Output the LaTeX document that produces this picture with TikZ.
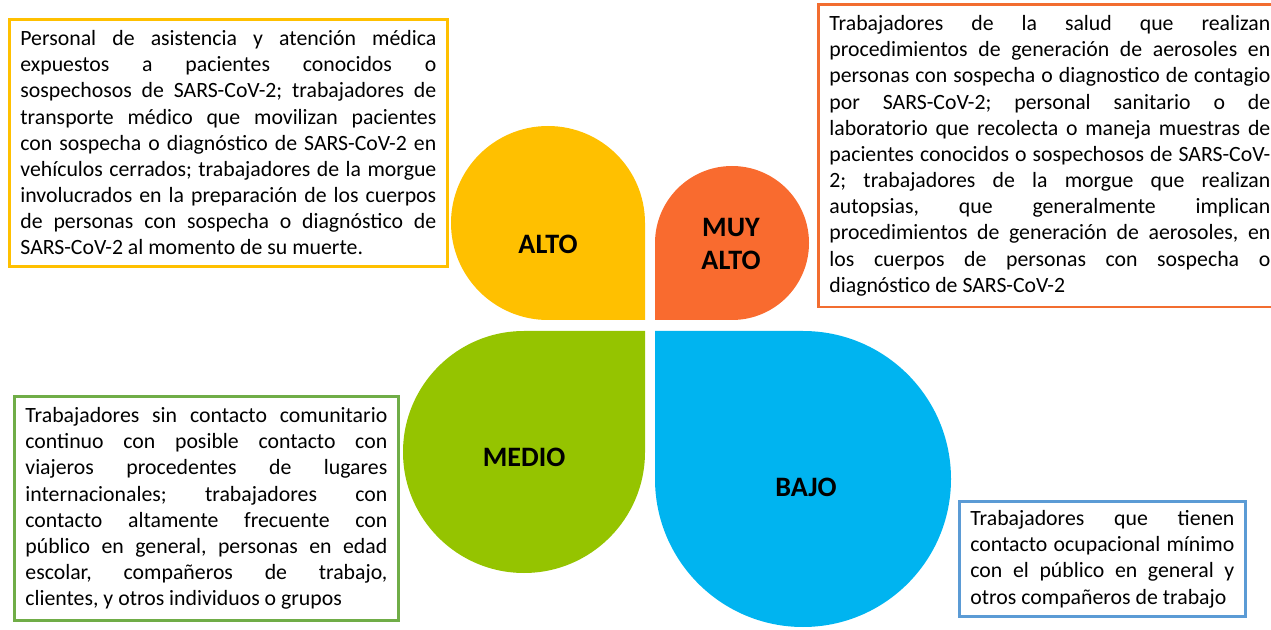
\documentclass[tikz,border=0pt]{standalone}
\usepackage{fontspec}
\setmainfont{Carlito}
\usepackage{tikz}
\usetikzlibrary{backgrounds}
\tolerance=10000
\hyphenpenalty=10000
\hbadness=10000
\frenchspacing
\pgfdeclarelayer{petallayer}
\pgfdeclarelayer{nodelayer}
\pgfsetlayers{petallayer,main,nodelayer}
\definecolor{altoc}{HTML}{FFC000}
\definecolor{muyaltoc}{HTML}{F96B2F}
\definecolor{medioc}{HTML}{95C400}
\definecolor{bajoc}{HTML}{00B4F0}
\definecolor{boxorange}{HTML}{F26D30}
\definecolor{boxgreen}{HTML}{70AD47}
\definecolor{boxblue}{HTML}{5B9BD5}
\tikzstyle{petalshape}=[draw=none]
\tikzstyle{levellabel}=[font=\bfseries\fontsize{16}{19}\selectfont, align=center, text=black]
\tikzstyle{infobox}=[draw, line width=1.6pt, fill=white, anchor=north west, inner xsep=0.22cm, inner ysep=0.22cm, align=justify, font=\frenchspacing\fontsize{12.4}{14.9}\selectfont]

\begin{document}
\begin{tikzpicture}[x=0.02cm, y=0.02cm]
            \useasboundingbox (0, 0) rectangle (1271, 629);
            \clip (0, 0) rectangle (1271, 629);
            \begin{pgfonlayer}{petallayer}
                \fill [style=petalshape, fill=altoc] (645, 309) -- (645, 406) arc [start angle=0, end angle=270, radius=97] -- cycle;
                \fill [style=petalshape, fill=muyaltoc] (655, 309) -- (732, 309) arc [start angle=-90, end angle=180, radius=77] -- cycle;
                \fill [style=petalshape, fill=medioc] (645, 298) -- (524, 298) arc [start angle=90, end angle=360, radius=121] -- cycle;
                \fill [style=petalshape, fill=bajoc] (655, 298) -- (655, 150) arc [start angle=180, end angle=450, radius=148] -- cycle;
            \end{pgfonlayer}
            \begin{pgfonlayer}{nodelayer}
                \node [style=levellabel] (alto) at (548, 385) {ALTO};
                \node [style=levellabel] (muyalto) at (731, 385) {MUY\\ALTO};
                \node [style=levellabel] (medio) at (524, 172) {MEDIO};
                \node [style=levellabel] (bajo) at (806, 142) {BAJO};

                \node [style=infobox, draw=altoc, text width=8.32cm] (altotext) at (8, 611) {Personal de asistencia y atención médica\linebreak expuestos a pacientes conocidos o\linebreak sospechosos de SARS-CoV-2; trabajadores de\linebreak transporte médico que movilizan pacientes\linebreak con sospecha o diagnóstico de SARS-CoV-2 en\linebreak vehículos cerrados; trabajadores de la morgue\linebreak involucrados en la preparación de los cuerpos\linebreak de personas con sospecha o diagnóstico de\linebreak SARS-CoV-2 al momento de su muerte.};
                \node [style=infobox, draw=boxorange, text width=8.82cm] (muyaltotext) at (817, 626) {Trabajadores de la salud que realizan\linebreak procedimientos de generación de aerosoles en\linebreak personas con sospecha o diagnostico de contagio\linebreak por SARS-CoV-2; personal sanitario o de\linebreak laboratorio que recolecta o maneja muestras de\linebreak pacientes conocidos o sospechosos de SARS-CoV-\linebreak 2; trabajadores de la morgue que realizan\linebreak autopsias, que generalmente implican\linebreak procedimientos de generación de aerosoles, en\linebreak los cuerpos de personas con sospecha o\linebreak diagnóstico de SARS-CoV-2};
                \node [style=infobox, draw=boxgreen, text width=7.24cm] (mediotext) at (13, 234) {Trabajadores sin contacto comunitario\linebreak continuo con posible contacto con\linebreak viajeros procedentes de lugares\linebreak internacionales; trabajadores con\linebreak contacto altamente frecuente con\linebreak público en general, personas en edad\linebreak escolar, compañeros de trabajo,\linebreak clientes, y otros individuos o grupos};
                \node [style=infobox, draw=boxblue, text width=5.28cm, inner ysep=0.18cm] (bajotext) at (958, 129) {Trabajadores que tienen\linebreak contacto ocupacional mínimo\linebreak con el público en general y\linebreak otros compañeros de trabajo};
            \end{pgfonlayer}
        \end{tikzpicture}
\end{document}
